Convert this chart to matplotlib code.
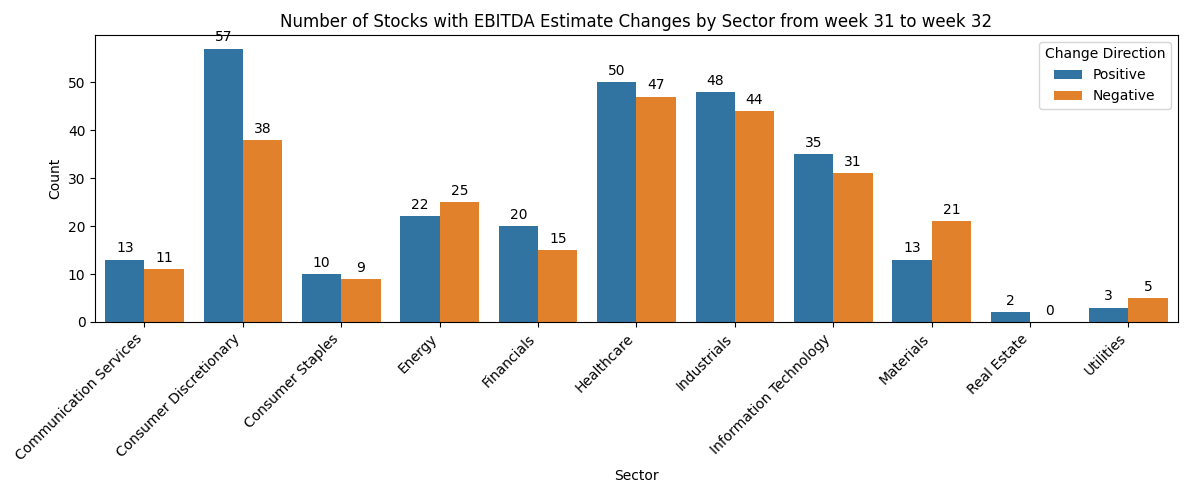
import numpy as np
import pandas as pd
import matplotlib
matplotlib.use("Agg")
import matplotlib.pyplot as plt
import seaborn as sns

sectors = ["Communication Services", "Consumer Discretionary", "Consumer Staples",
           "Energy", "Financials", "Healthcare", "Industrials",
           "Information Technology", "Materials", "Real Estate", "Utilities"]
positive = [13, 57, 10, 22, 20, 50, 48, 35, 13, 2, 3]
negative = [11, 38, 9, 25, 15, 47, 44, 31, 21, 0, 5]

df = pd.DataFrame({
    "Sector": sectors * 2,
    "Count": positive + negative,
    "Change Direction": ["Positive"] * len(sectors) + ["Negative"] * len(sectors),
})

fig, ax = plt.subplots(figsize=(11.88, 4.9), dpi=100)
sns.barplot(data=df, x="Sector", y="Count", hue="Change Direction", ax=ax)

for c in ax.containers:
    ax.bar_label(c, padding=3)

ax.set_title("Number of Stocks with EBITDA Estimate Changes by Sector from week 31 to week 32")
plt.setp(ax.get_xticklabels(), rotation=45, ha="right")
ax.legend(title="Change Direction", loc="upper right")
fig.subplots_adjust(left=0.0802, right=0.9913, top=0.9286, bottom=0.3429)
fig.savefig("out.png")
